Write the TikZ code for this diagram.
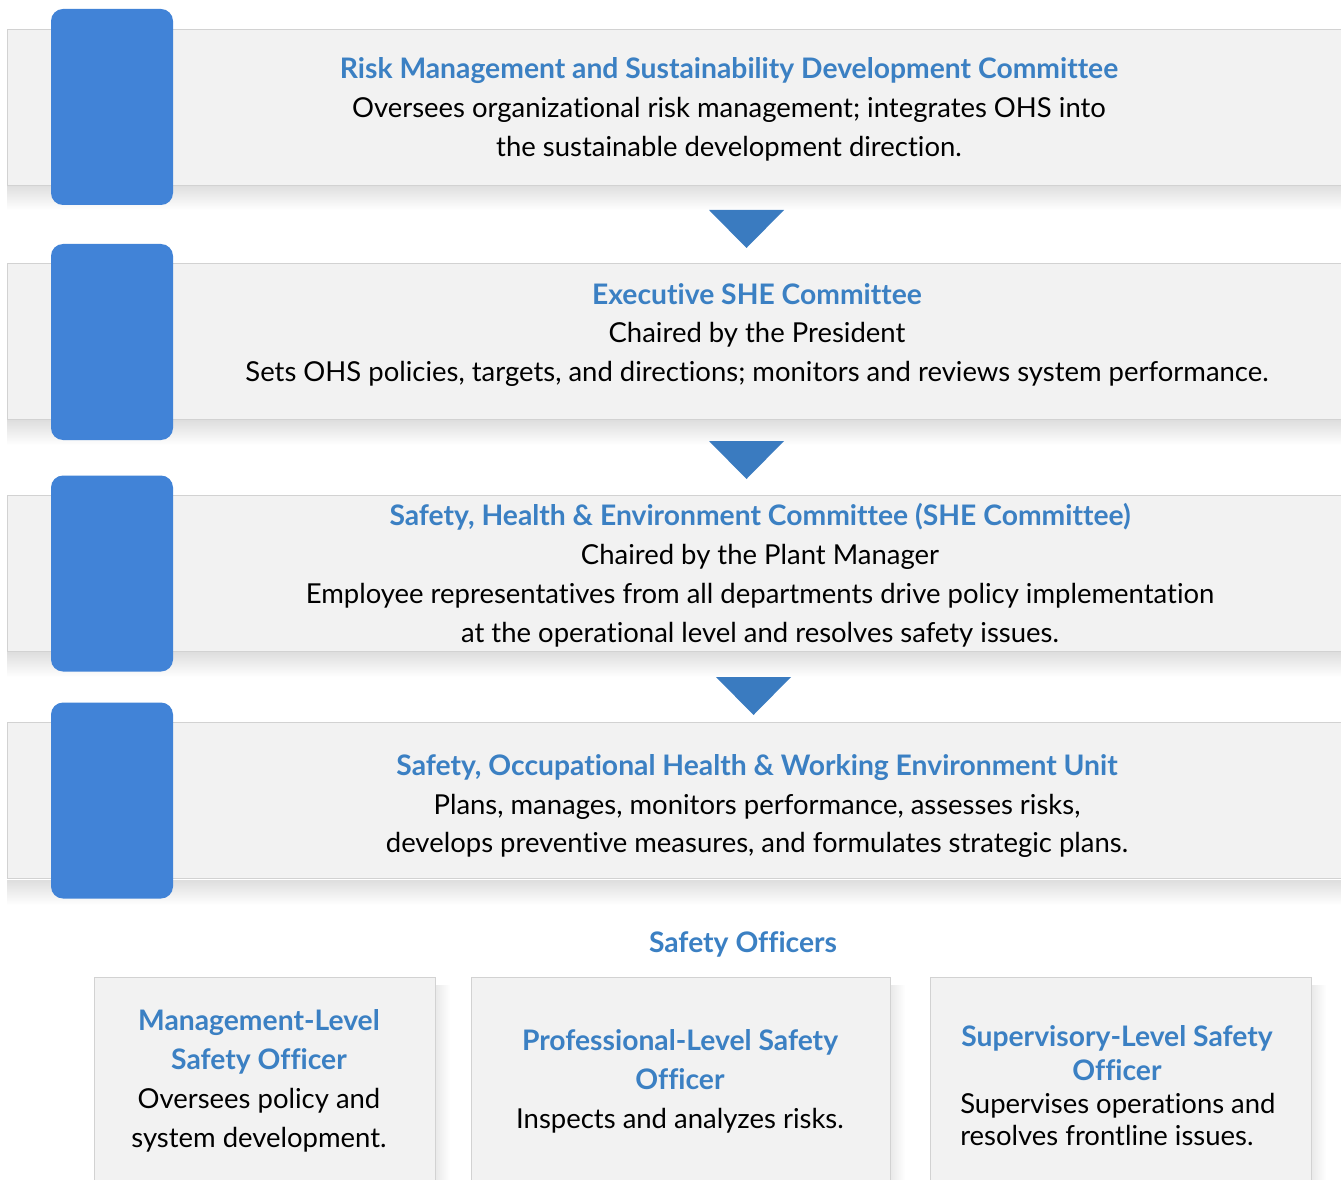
\documentclass[tikz,border=0pt]{standalone}
\usepackage{fontspec}
\setmainfont{Lato}[Ligatures=NoCommon]
\definecolor{barfill}{HTML}{F2F2F2}
\definecolor{barline}{HTML}{D2D2D2}
\definecolor{tabblue}{HTML}{4183D7}
\definecolor{arrblue}{HTML}{3A7BC0}
\definecolor{titleblue}{HTML}{3B80C3}
\newcommand{\ttlfont}{\fontsize{21.2}{29}\selectfont\bfseries\color{titleblue}}
\begin{document}
\begin{tikzpicture}[x=0.75pt,y=-0.75pt,
  bar/.style={draw=barline, line width=0.8pt, fill=barfill, inner sep=0pt, minimum width=1000.5pt, minimum height=117pt, anchor=north west},
  tab/.style={fill=tabblue, rounded corners=9pt, inner sep=0pt, minimum width=91.5pt, minimum height=147pt},
  obox/.style={draw=barline, line width=0.8pt, fill=barfill, inner sep=0pt, anchor=north west},
  txt/.style={align=center, font=\fontsize{20.6}{29.2}\selectfont, text=black},
  ttl/.style={font=\ttlfont},
  arr/.style={fill=arrblue},
  shd/.style={top color=black!13, bottom color=white, draw=none},
  rshd/.style={left color=black!9, right color=white, draw=none}
]
\useasboundingbox (0,0) rectangle (1341,1180);
\fill[white] (0,0) rectangle (1341,1180);

% shadows
\foreach \t/\b in {185/210, 420/445, 652/677, 880/905}{
  \shade[shd] (7,\b) rectangle (1341,\t);
}

% bars
\node[bar] (bar1) at (7,29) {};
\node[bar] (bar2) at (7,263) {};
\node[bar] (bar3) at (7,495) {};
\node[bar] (bar4) at (7,722) {};

% tabs
\node[tab] (tab1) at (112,107) {};
\node[tab] (tab2) at (112,342) {};
\node[tab] (tab3) at (112,573.5) {};
\node[tab] (tab4) at (112,800.5) {};

% arrows
\fill[arr] (709,210) -- (784,210) -- (746.5,248) -- cycle;
\fill[arr] (709,441) -- (784,441) -- (746.5,479) -- cycle;
\fill[arr] (716,677) -- (791,677) -- (753.5,715) -- cycle;

% bar texts
\node[txt] (t1) at (729,109) {{\ttlfont Risk Management and Sustainability Development Committee}\\
Oversees organizational risk management; integrates OHS into\\
the sustainable development direction.};
\node[txt] (t2) at (757,335) {{\ttlfont Executive SHE Committee}\\
Chaired by the President\\
Sets OHS policies, targets, and directions; monitors and reviews system performance.};
\node[txt] (t3) at (760,575) {{\ttlfont Safety, Health \& Environment Committee (SHE Committee)}\\
Chaired by the Plant Manager\\
Employee representatives from all departments drive policy implementation\\
at the operational level and resolves safety issues.};
\node[txt] (t4) at (757,806) {{\ttlfont Safety, Occupational Health \& Working Environment Unit}\\
Plans, manages, monitors performance, assesses risks,\\
develops preventive measures, and formulates strategic plans.};

% officers
\node[ttl] (so) at (743,944) {Safety Officers};

\shade[rshd] (435,985) rectangle (450,1180);
\shade[rshd] (890,985) rectangle (905,1180);
\shade[rshd] (1311,985) rectangle (1326,1180);
\node[obox, minimum width=255.75pt, minimum height=160pt] (oa) at (94,977) {};
\node[obox, minimum width=314.25pt, minimum height=160pt] (ob) at (471,977) {};
\node[obox, minimum width=285.75pt, minimum height=160pt] (oc) at (930,977) {};

\node[txt] (ta) at (259,1081) {{\ttlfont Management-Level}\\
{\ttlfont Safety Officer}\\
Oversees policy and\\
system development.};
\node[txt] (tb) at (680,1081) {{\ttlfont Professional-Level Safety}\\
{\ttlfont Officer}\\
Inspects and analyzes risks.};
\node[align=center, font=\fontsize{21.2}{25.5}\selectfont, inner sep=0pt] (tc) at (1117,1053) {{\ttlfont Supervisory-Level Safety}\\
{\ttlfont Officer}};
\node[align=left, font=\fontsize{20.6}{24}\selectfont, anchor=north west, inner sep=0pt] (tcb) at (960,1093) {Supervises operations and\\
resolves frontline issues.};
\end{tikzpicture}
\end{document}
